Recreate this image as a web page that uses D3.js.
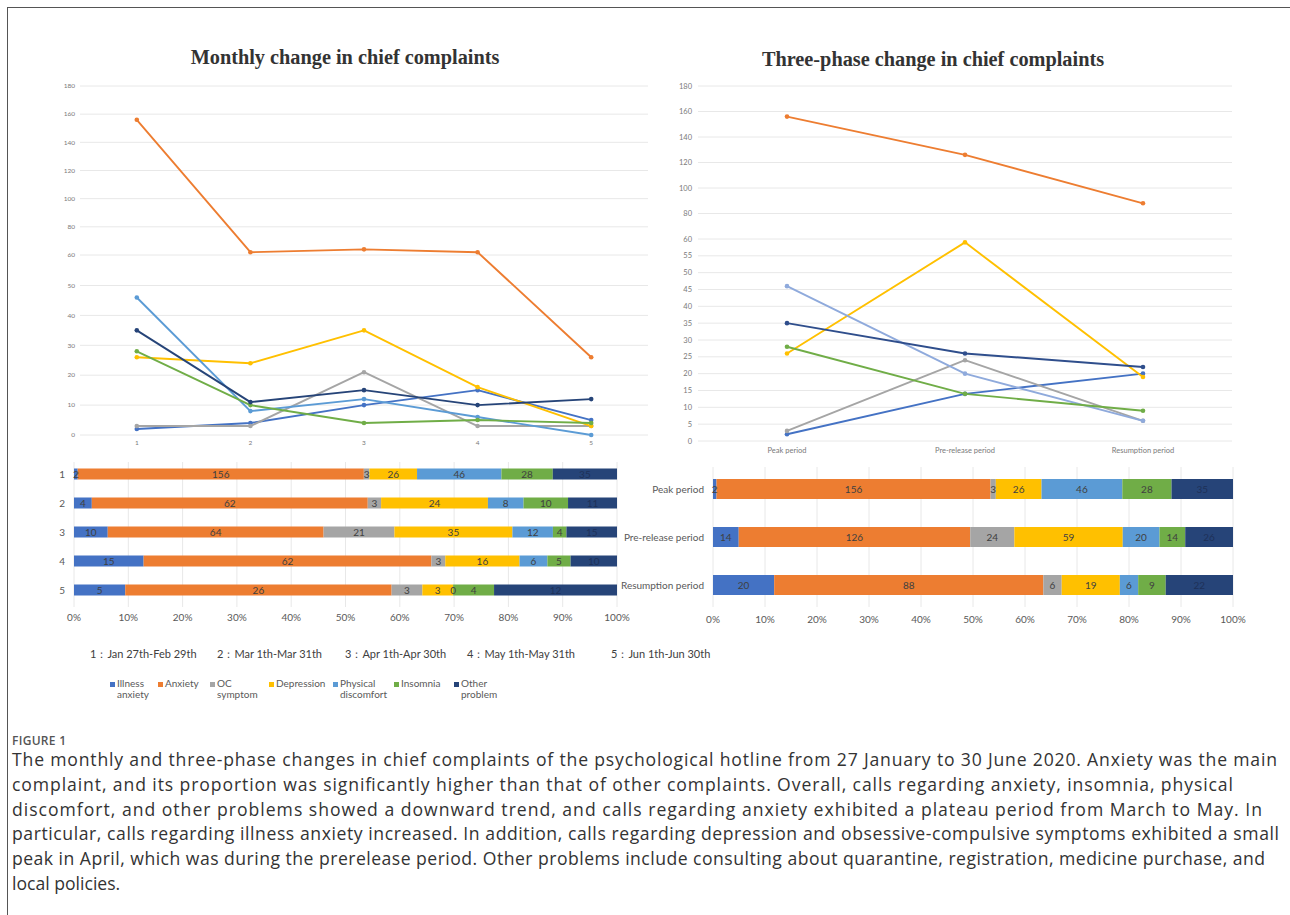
<!DOCTYPE html>
<html>
<head>
<meta charset="utf-8">
<script src="https://cdn.jsdelivr.net/npm/d3@7"></script>
<style>
  html, body { margin: 0; padding: 0; background: #fff; }
  svg { display: block; }
</style>
</head>
<body>
<svg id="fig" width="1290" height="915"></svg>
<script>
// ---- data ----
const complaintNames = ['Illness anxiety', 'Anxiety', 'OC symptom', 'Depression', 'Physical discomfort', 'Insomnia', 'Other problem'];
const legendLines = [['Illness', 'anxiety'], ['Anxiety'], ['OC', 'symptom'], ['Depression'], ['Physical', 'discomfort'], ['Insomnia'], ['Other', 'problem']];

const months = ['1', '2', '3', '4', '5'];
const monthRanges = ['1：Jan 27th-Feb 29th', '2：Mar 1th-Mar 31th', '3：Apr 1th-Apr 30th', '4：May 1th-May 31th', '5：Jun 1th-Jun 30th'];
const monthlyIllness = [2, 4, 10, 15, 5];
const monthlyAnxiety = [156, 62, 64, 62, 26];
const monthlyOC = [3, 3, 21, 3, 3];
const monthlyDepression = [26, 24, 35, 16, 3];
const monthlyPhysical = [46, 8, 12, 6, 0];
const monthlyInsomnia = [28, 10, 4, 5, 4];
const monthlyOther = [35, 11, 15, 10, 12];

const phases = ['Peak period', 'Pre-release period', 'Resumption period'];
const phaseIllness = [2, 14, 20];
const phaseAnxiety = [156, 126, 88];
const phaseOC = [3, 24, 6];
const phaseDepression = [26, 59, 19];
const phasePhysical = [46, 20, 6];
const phaseInsomnia = [28, 14, 9];
const phaseOther = [35, 26, 22];

const leftTicks = [0, 10, 20, 30, 40, 50, 60, 80, 100, 120, 140, 160, 180];
const rightTicks = [0, 5, 10, 15, 20, 25, 30, 35, 40, 45, 50, 55, 60, 80, 100, 120, 140, 160, 180];
const pctTicks = [0, 0.1, 0.2, 0.3, 0.4, 0.5, 0.6, 0.7, 0.8, 0.9, 1];

const monthlySeries = [monthlyIllness, monthlyAnxiety, monthlyOC, monthlyDepression, monthlyPhysical, monthlyInsomnia, monthlyOther];
const phaseSeries = [phaseIllness, phaseAnxiety, phaseOC, phaseDepression, phasePhysical, phaseInsomnia, phaseOther];

const barColors = ['#4472C4', '#ED7D31', '#A5A5A5', '#FFC000', '#5B9BD5', '#70AD47', '#264478'];
const phaseLineColors = ['#4472C4', '#ED7D31', '#A5A5A5', '#FFC000', '#8FAADC', '#70AD47', '#2F4E8C'];

const svg = d3.select('#fig');
const chartFont = 'Lato, "Liberation Sans", sans-serif';
const gridColor = '#e8e8e8';
const axisText = '#7a7a7a';
const labelText = '#595959';

// ---- figure frame ----
svg.append('line').attr('x1', 7).attr('x2', 1290).attr('y1', 7.5).attr('y2', 7.5).attr('stroke', '#555').attr('stroke-width', 1);
svg.append('line').attr('x1', 7.5).attr('x2', 7.5).attr('y1', 7).attr('y2', 915).attr('stroke', '#555').attr('stroke-width', 1);

// ---- titles ----
const titleFont = '"Liberation Serif", "DejaVu Serif", serif';
svg.append('text').attr('x', 345).attr('y', 64).attr('text-anchor', 'middle')
  .attr('font-family', titleFont).attr('font-weight', 'bold').attr('font-size', 20.3).attr('fill', '#333')
  .text('Monthly change in chief complaints');
svg.append('text').attr('x', 933).attr('y', 66).attr('text-anchor', 'middle')
  .attr('font-family', titleFont).attr('font-weight', 'bold').attr('font-size', 20.3).attr('fill', '#333')
  .text('Three-phase change in chief complaints');

// ---- line chart helper ----
function lineChart(opts) {
  const g = svg.append('g');
  const x = d3.scalePoint().domain(opts.cats).range(opts.xRange).padding(0.5);
  const y = d3.scaleLinear().domain(opts.yDomain).range(opts.yRange);

  g.selectAll('line.grid').data(opts.ticks).join('line')
    .attr('x1', opts.xRange[0]).attr('x2', opts.xRange[1])
    .attr('y1', d => y(d)).attr('y2', d => y(d))
    .attr('stroke', gridColor).attr('stroke-width', 1);

  g.selectAll('text.ytick').data(opts.ticks).join('text')
    .attr('x', opts.tickX).attr('y', d => y(d)).attr('dy', '0.35em')
    .attr('text-anchor', 'end').attr('font-family', chartFont)
    .attr('font-size', opts.tickSize).attr('fill', axisText).text(d => d);

  g.selectAll('text.xtick').data(opts.cats).join('text')
    .attr('x', d => x(d)).attr('y', opts.xLabelY)
    .attr('text-anchor', 'middle').attr('font-family', chartFont)
    .attr('font-size', opts.xTickSize).attr('fill', axisText).text(d => d);

  const line = d3.line().x((d, i) => x(opts.cats[i])).y(d => y(d));
  opts.series.forEach((vals, s) => {
    g.append('path').attr('d', line(vals)).attr('fill', 'none')
      .attr('stroke', opts.colors[s]).attr('stroke-width', 1.9).attr('stroke-linejoin', 'round');
    g.selectAll(null).data(vals).join('circle')
      .attr('cx', (d, i) => x(opts.cats[i])).attr('cy', d => y(d)).attr('r', 2.3)
      .attr('fill', opts.colors[s]);
  });
}

lineChart({
  cats: months, series: monthlySeries, colors: barColors,
  xRange: [80, 648], yDomain: [0, 50, 60, 180], yRange: [435, 285.5, 255, 86],
  ticks: leftTicks, tickX: 75, tickSize: 6.5, xTickSize: 6.5, xLabelY: 445
});

lineChart({
  cats: phases, series: phaseSeries, colors: phaseLineColors,
  xRange: [698, 1232], yDomain: [0, 60, 180], yRange: [441, 239, 86],
  ticks: rightTicks, tickX: 692, tickSize: 7.5, xTickSize: 7.5, xLabelY: 453
});

// ---- 100% stacked bar helper ----
function stackedBar(opts) {
  const g = svg.append('g');
  const x = d3.scaleLinear().domain([0, 1]).range(opts.xRange);
  const y = d3.scalePoint().domain(opts.cats).range(opts.yRange).padding(0.5);

  g.selectAll('line.vgrid').data(pctTicks).join('line')
    .attr('x1', d => x(d)).attr('x2', d => x(d))
    .attr('y1', opts.gridTop).attr('y2', opts.gridBottom)
    .attr('stroke', gridColor).attr('stroke-width', 1);

  g.selectAll('text.pct').data(pctTicks).join('text')
    .attr('x', d => x(d)).attr('y', opts.pctY).attr('text-anchor', 'middle')
    .attr('font-family', chartFont).attr('font-size', 10).attr('fill', labelText)
    .text(d => Math.round(d * 100) + '%');

  g.selectAll('text.cat').data(opts.cats).join('text')
    .attr('x', opts.catX).attr('y', d => y(d)).attr('dy', '0.35em').attr('text-anchor', 'end')
    .attr('font-family', chartFont).attr('font-size', opts.catSize).attr('fill', labelText).text(d => d);

  // segments first, then their value labels on top
  const segs = [];
  opts.cats.forEach((c, i) => {
    const vals = opts.series.map(s => s[i]);
    const total = d3.sum(vals);
    let acc = 0;
    vals.forEach((v, s) => {
      segs.push({ c, s, v, x0: x(acc / total), x1: x((acc + v) / total) });
      acc += v;
    });
  });
  const rects = g.append('g');
  const labels = g.append('g');
  segs.forEach(d => {
    rects.append('rect').attr('x', d.x0).attr('y', y(d.c) - opts.barH / 2)
      .attr('width', Math.max(0, d.x1 - d.x0)).attr('height', opts.barH).attr('fill', barColors[d.s]);
    labels.append('text').attr('x', (d.x0 + d.x1) / 2).attr('y', y(d.c)).attr('dy', '0.36em')
      .attr('text-anchor', 'middle').attr('font-family', chartFont).attr('font-size', 10)
      .attr('fill', d.s === 6 ? '#1e3158' : '#404040').text(d.v);
  });
}

stackedBar({
  cats: months, series: monthlySeries, xRange: [74, 617], yRange: [459.5, 604.5],
  barH: 11, gridTop: 462, gridBottom: 607, pctY: 621, catX: 65, catSize: 10
});

stackedBar({
  cats: phases, series: phaseSeries, xRange: [713, 1233], yRange: [465, 609],
  barH: 20, gridTop: 467, gridBottom: 607, pctY: 623, catX: 704, catSize: 10
});

// ---- month ranges ----
const monthX = [90, 217, 345, 467, 611];
svg.selectAll('text.mr').data(monthRanges).join('text')
  .attr('x', (d, i) => monthX[i]).attr('y', 658)
  .attr('font-family', chartFont).attr('font-size', 11).attr('fill', '#404040').text(d => d);

// ---- legend ----
const legendX = [110, 158, 210, 269, 333, 394, 454];
complaintNames.forEach((name, i) => {
  const lg = svg.append('g').attr('transform', `translate(${legendX[i]},686)`);
  lg.append('rect').attr('x', 0).attr('y', -4).attr('width', 5).attr('height', 5).attr('fill', barColors[i]);
  const t = lg.append('text').attr('x', 6).attr('y', 0.5)
    .attr('font-family', chartFont).attr('font-size', 10).attr('fill', labelText);
  legendLines[i].forEach((ln, k) => {
    t.append('tspan').attr('x', 7).attr('dy', k === 0 ? 0 : 11).text(ln);
  });
});

// ---- caption ----
const captionFont = '"Open Sans", "Noto Sans", sans-serif';
svg.append('text').attr('x', 12).attr('y', 745)
  .attr('font-family', captionFont).attr('font-size', 12).attr('font-weight', 600)
  .attr('fill', '#555').attr('letter-spacing', 0.3).text('FIGURE 1');

const captionLines = [
  'The monthly and three-phase changes in chief complaints of the psychological hotline from 27 January to 30 June 2020. Anxiety was the main',
  'complaint, and its proportion was significantly higher than that of other complaints. Overall, calls regarding anxiety, insomnia, physical',
  'discomfort, and other problems showed a downward trend, and calls regarding anxiety exhibited a plateau period from March to May. In',
  'particular, calls regarding illness anxiety increased. In addition, calls regarding depression and obsessive-compulsive symptoms exhibited a small',
  'peak in April, which was during the prerelease period. Other problems include consulting about quarantine, registration, medicine purchase, and',
  'local policies.'
];
const captionEnds = [1277, 1233, 1262, 1279, 1265, null];
captionLines.forEach((ln, i) => {
  const t = svg.append('text').attr('x', 12).attr('y', 766 + i * 24.8)
    .attr('font-family', captionFont).attr('font-size', 17.6).attr('fill', '#333').text(ln);
  if (captionEnds[i]) {
    t.attr('textLength', captionEnds[i] - 12).attr('lengthAdjust', 'spacing');
  }
});
</script>
</body>
</html>
